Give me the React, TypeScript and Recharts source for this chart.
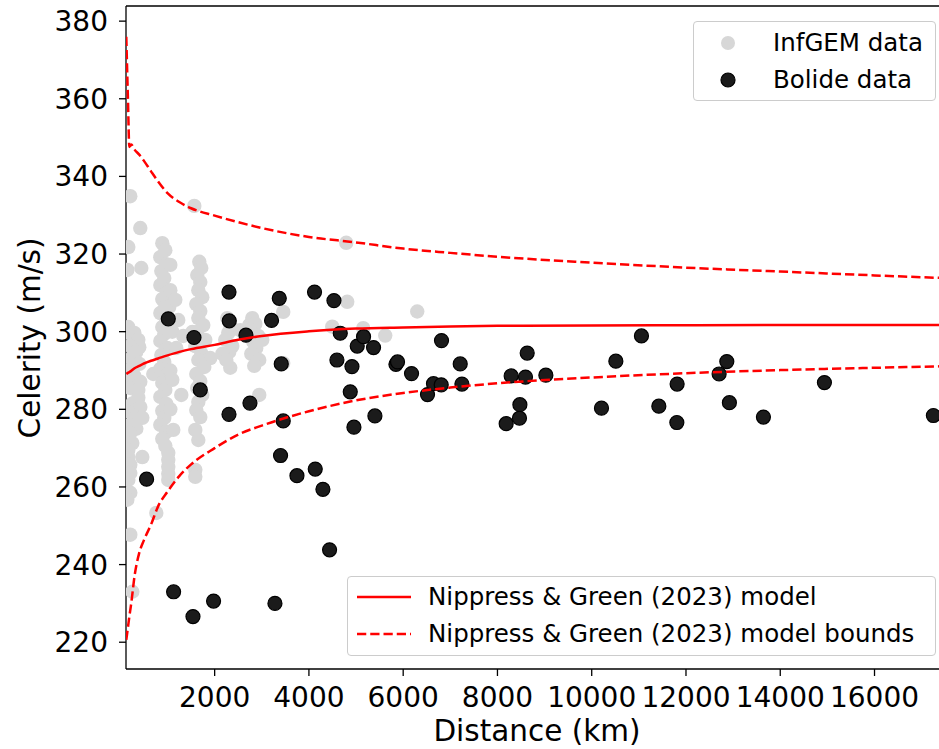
import { ComposedChart, Scatter, XAxis, YAxis, ReferenceLine, Label } from "recharts";

const FONT = "'DejaVu Sans', sans-serif";

// InfGEM simulations (grey), grouped roughly by distance column
const infgemDistance = [
  210, 422, 168, 444, 147, 168, 295, 253, 380, 401, 210, 338, 231, 316, 401, 168, 698, 295, 422, 168,
  210, 380, 380, 253, 422, 147, 316, 465, 210, 338, 210, 168, 253, 168, 168, 465, 210, 210, 168, 210,
  147, 762, 210, 253,
  889, 953, 847, 974, 868, 931, 847, 995, 889, 953, 847, 974, 889, 931, 847, 995, 868, 931, 847, 974,
  889, 953, 847, 974, 889, 931, 847, 974, 889, 953, 1016, 1016, 1016, 1016, 1016,
  1059, 1059, 1037, 1165, 1228, 1101, 1334, 1186, 1059, 1101, 1292, 1059, 1122,
  1568, 1674, 1716, 1631, 1695, 1653, 1737, 1610, 1695, 1653, 1759, 1631, 1525, 1695, 1801, 1589,
  1716, 1907, 1653, 1780, 1610, 1695, 1631, 1737, 1653, 1610, 1695, 1589, 1653, 1589, 1589,
  2268, 2331, 2289, 2225, 2374, 2310, 2162, 2247, 2331, 2543,
  2734, 2798, 2862, 2756, 2925, 2819, 3010, 2883, 2777, 2946, 2840, 2946,
  3455, 3455, 4495, 4792, 4813, 5152, 5619, 6298,
];
const infgemCelerity = [
  334.9, 326.7, 321.8, 316.4, 315.9, 301.2, 299.7, 299.0, 297.9, 296.0, 296.3, 294.8, 293.2, 292.5, 291.7, 290.1, 289.1, 288.6, 287.1, 287.0,
  285.5, 285.0, 283.0, 281.5, 280.6, 279.5, 278.0, 277.8, 276.0, 275.0, 273.9, 272.5, 271.3, 269.5, 267.7, 267.7, 265.7, 263.6, 261.8, 258.5,
  256.7, 253.3, 247.7, 233.0,
  322.8, 321.0, 319.2, 317.4, 315.6, 313.8, 312.0, 310.2, 308.4, 306.6, 304.8, 303.0, 301.2, 299.4, 297.6, 295.8, 294.0, 292.2, 290.4, 288.6,
  286.8, 285.0, 283.2, 281.4, 279.6, 277.8, 276.0, 274.2, 272.4, 270.6, 268.8, 267.0, 265.2, 263.4, 261.8,
  317.2, 310.7, 306.4, 308.2, 303.0, 300.0, 298.9, 295.8, 290.0, 287.6, 283.7, 280.0, 274.7,
  332.4, 318.0, 316.4, 314.6, 312.8, 310.7, 308.9, 307.1, 305.3, 303.5, 301.7, 299.9, 299.9, 298.1, 297.9, 296.3,
  294.5, 293.2, 292.7, 290.9, 289.1, 287.3, 285.5, 283.7, 281.9, 279.8, 278.0, 274.7, 272.1, 264.4, 262.6,
  303.5, 301.7, 299.7, 297.9, 296.3, 294.8, 294.3, 292.7, 290.7, 300.4,
  301.7, 303.5, 302.0, 300.4, 298.9, 297.4, 297.9, 295.8, 294.3, 292.7, 291.2, 283.7,
  305.1, 291.9, 301.3, 322.9, 307.7, 300.9, 299.0, 305.2,
];

// bolide observations (black)
const bolideDistance = [
  1016, 1561, 1695, 2304, 2310, 2304, 2664, 2749, 3207, 3371, 3413, 3455, 3398, 3746, 556, 4119, 4134, 4297, 4438, 4531,
  4665, 4594, 4913, 4877, 4955, 5025, 5159, 5371, 5400, 5846, 5880, 6177, 6516, 6643, 6807, 6813, 7210, 7246, 8185, 8291,
  8476, 8467, 8595, 8631, 9027, 10207, 10512, 11055, 11424, 11812, 11806, 12703, 12866, 12921, 13643, 14937, 17249,
  1129, 1540, 1977, 3279,
];
const bolideCelerity = [
  303.3, 298.5, 285.0, 310.2, 302.8, 278.7, 299.1, 281.6, 302.9, 308.6, 291.7, 277.0, 268.1, 262.9, 262.0, 310.2, 264.6, 259.4, 243.8, 308.0,
  299.6, 292.7, 291.0, 284.5, 275.4, 296.3, 298.7, 295.9, 278.3, 291.6, 292.2, 289.2, 283.8, 286.6, 286.3, 297.7, 291.7, 286.5, 276.3, 288.6,
  281.2, 277.7, 288.3, 294.5, 288.8, 280.3, 292.4, 298.9, 280.8, 286.5, 276.6, 289.1, 292.3, 281.7, 278.0, 286.9, 278.4,
  233.0, 226.6, 230.6, 230.0,
];

// Nippress & Green (2023) model and bounds
const modelDistance = [
  125, 160, 190, 230, 300, 400, 500, 650, 800, 1000, 1250, 1500, 2000, 2500, 3000, 4000, 5000, 6000, 7000, 8000,
  10000, 12000, 14000, 16000, 17500,
];
const modelCelerity = [
  289.1, 289.4, 289.6, 289.9, 290.6, 291.2, 291.8, 292.5, 293.1, 293.9, 294.8, 295.5, 296.6, 297.9, 298.9, 300.1, 300.8, 301.1, 301.35, 301.5,
  301.6, 301.65, 301.7, 301.7, 301.7,
];
const modelUpper = [
  376.0, 360.0, 347.6, 348.2, 346.9, 345.6, 344.0, 341.3, 338.7, 335.7, 333.4, 331.8, 329.9, 328.2, 326.7, 324.4, 323.0, 321.4, 320.3, 319.3,
  317.8, 316.5, 315.5, 314.5, 313.8,
];
const modelLower = [
  220.6, 223.8, 226.6, 230.0, 237.0, 243.0, 246.3, 250.3, 255.0, 258.8, 262.8, 265.8, 270.0, 273.5, 275.8, 279.5, 282.3, 284.2, 285.6, 286.7,
  288.2, 289.3, 290.1, 290.7, 291.1,
];

const xTicks = [2000, 4000, 6000, 8000, 10000, 12000, 14000, 16000];
const yTicks = [220, 240, 260, 280, 300, 320, 340, 360, 380];

const pairs = (xs: number[], ys: number[]) => xs.map((x, i) => ({ x, y: ys[i] }));

const infgem = pairs(infgemDistance, infgemCelerity);
const bolide = pairs(bolideDistance, bolideCelerity);
const model = pairs(modelDistance, modelCelerity);
const upper = pairs(modelDistance, modelUpper);
const lower = pairs(modelDistance, modelLower);

const tickStyle = { fontSize: 28, fill: "#000", fontFamily: FONT };
const axisLine = { stroke: "#000", strokeWidth: 1.3 };

const GreyDot = (p: any) => <circle cx={p.cx} cy={p.cy} r={7.2} fill="#d7d7d7" />;
const BlackDot = (p: any) => (
  <circle cx={p.cx} cy={p.cy} r={7} fill="#1b1b1b" stroke="#000" strokeWidth={1.2} />
);
const NoDot = () => <g />;

const legendText = {
  fontFamily: FONT, fontSize: 24.5, color: "#000", position: "absolute" as const,
  lineHeight: "1", whiteSpace: "nowrap" as const,
};

const App = () => (
  <div
    style={{
      position: "absolute", left: 0, top: 0, width: 939, height: 749,
      overflow: "hidden", background: "#fff",
    }}
  >
    <ComposedChart width={945} height={749} margin={{ top: 6, right: 2, bottom: 0, left: 0 }}>
      <XAxis
        type="number"
        dataKey="x"
        domain={[119, 17453]}
        ticks={xTicks}
        interval={0}
        allowDataOverflow
        height={80}
        tickSize={7}
        tickMargin={11}
        tick={tickStyle}
        axisLine={axisLine}
        tickLine={axisLine}
      >
        <Label
          content={() => (
            <text x={537} y={741} textAnchor="middle" fontSize={29.5} fontFamily={FONT} fill="#000">
              Distance (km)
            </text>
          )}
        />
      </XAxis>
      <YAxis
        type="number"
        dataKey="y"
        domain={[213.1, 383.9]}
        ticks={yTicks}
        interval={0}
        allowDataOverflow
        width={126}
        tickSize={7}
        tickMargin={11}
        tick={tickStyle}
        axisLine={axisLine}
        tickLine={axisLine}
      >
        <Label
          content={() => (
            <text
              x={40}
              y={338}
              transform="rotate(-90 40 338)"
              textAnchor="middle"
              fontSize={29.5}
              fontFamily={FONT}
              fill="#000"
            >
              Celerity (m/s)
            </text>
          )}
        />
      </YAxis>
      <ReferenceLine y={383.9} stroke="#000" strokeWidth={1.3} />
      <Scatter data={infgem} shape={GreyDot} isAnimationActive={false} />
      <Scatter data={bolide} shape={BlackDot} isAnimationActive={false} />
      <Scatter
        data={model}
        shape={NoDot}
        line={{ stroke: "#ff0000", strokeWidth: 2.5 }}
        lineJointType="monotoneX"
        isAnimationActive={false}
      />
      <Scatter
        data={upper}
        shape={NoDot}
        line={{ stroke: "#ff0000", strokeWidth: 2.5, strokeDasharray: "9.25 4" }}
        lineJointType="monotoneX"
        isAnimationActive={false}
      />
      <Scatter
        data={lower}
        shape={NoDot}
        line={{ stroke: "#ff0000", strokeWidth: 2.5, strokeDasharray: "9.25 4" }}
        lineJointType="monotoneX"
        isAnimationActive={false}
      />
    </ComposedChart>

    <div
      style={{
        position: "absolute", left: 693, top: 21, width: 241, height: 78,
        border: "1px solid #cccccc", borderRadius: 4, background: "rgba(255,255,255,0.8)",
      }}
    >
      <svg width={60} height={78} style={{ position: "absolute", left: 0, top: 0 }}>
        <circle cx={34} cy={21} r={7} fill="#d7d7d7" />
        <circle cx={34} cy={58} r={7} fill="#1b1b1b" stroke="#000" strokeWidth={1.2} />
      </svg>
      <div style={{ ...legendText, left: 79, top: 9 }}>InfGEM data</div>
      <div style={{ ...legendText, left: 79, top: 46 }}>Bolide data</div>
    </div>

    <div
      style={{
        position: "absolute", left: 347, top: 576, width: 587, height: 78,
        border: "1px solid #cccccc", borderRadius: 4, background: "rgba(255,255,255,0.8)",
      }}
    >
      <svg width={70} height={78} style={{ position: "absolute", left: 0, top: 0 }}>
        <line x1={9} y1={20} x2={63} y2={20} stroke="#ff0000" strokeWidth={2.5} />
        <line x1={9} y1={57} x2={63} y2={57} stroke="#ff0000" strokeWidth={2.5} strokeDasharray="9.25 4" />
      </svg>
      <div style={{ ...legendText, left: 80, top: 8 }}>Nippress &amp; Green (2023) model</div>
      <div style={{ ...legendText, left: 80, top: 45 }}>Nippress &amp; Green (2023) model bounds</div>
    </div>
  </div>
);

export default App;
